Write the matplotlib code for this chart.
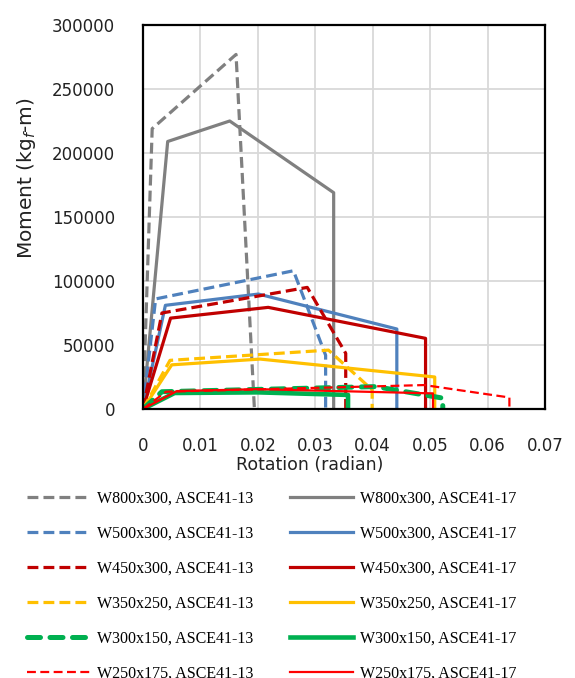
import numpy as np
import matplotlib
matplotlib.use("Agg")
import matplotlib.pyplot as plt

# moment-rotation backbone curves, ASCE41-13 vs ASCE41-17
sections = ["W800x300", "W500x300", "W450x300", "W350x250", "W300x150", "W250x175"]
colours = ["#808080", "#4F81BD", "#C00000", "#FFC000", "#00B050", "#FF0000"]

rot_13 = [
    [0, 0.0016, 0.0162, 0.0194],
    [0, 0.0022, 0.0262, 0.0318, 0.0318],
    [0, 0.0033, 0.0286, 0.0353, 0.0353],
    [0, 0.0047, 0.0323, 0.0399, 0.0399],
    [0, 0.0033, 0.0405, 0.0522, 0.0522],
    [0, 0.0040, 0.0490, 0.0638, 0.0638],
]
mom_13 = [
    [0, 219000, 277000, 0],
    [0, 86000, 108000, 42000, 0],
    [0, 75000, 95000, 43500, 0],
    [0, 38000, 46000, 15000, 0],
    [0, 13500, 17500, 8500, 0],
    [0, 13500, 18700, 9000, 0],
]
rot_17 = [
    [0, 0.0043, 0.0151, 0.0332, 0.0332],
    [0, 0.0039, 0.0201, 0.0442, 0.0442],
    [0, 0.0048, 0.0218, 0.0492, 0.0492],
    [0, 0.0050, 0.0204, 0.0508, 0.0508],
    [0, 0.0055, 0.0200, 0.0357, 0.0357],
    [0, 0.0059, 0.0200, 0.0505, 0.0505],
]
mom_17 = [
    [0, 209000, 225000, 169000, 0],
    [0, 81000, 89800, 62500, 0],
    [0, 71000, 79400, 55200, 0],
    [0, 34500, 39000, 25000, 0],
    [0, 12500, 13000, 11000, 0],
    [0, 14000, 15500, 12200, 0],
]

xticks = [0, 0.01, 0.02, 0.03, 0.04, 0.05, 0.06, 0.07]
xticklabels = ["0", "0.01", "0.02", "0.03", "0.04", "0.05", "0.06", "0.07"]
yticks = [0, 50000, 100000, 150000, 200000, 250000, 300000]
yticklabels = ["0", "50000", "100000", "150000", "200000", "250000", "300000"]

W, H = 575, 678
fig = plt.figure(figsize=(W / 100, H / 100), dpi=100)
ax = fig.add_axes([143 / W, 1 - 409 / H, (545 - 143) / W, (409 - 25) / H])

h13, h17 = [], []
for i, name in enumerate(sections):
    c = colours[i]
    # line weights / dash patterns per section
    if name == "W300x150":
        lw13, lw17, dash = 3.6, 3.3, (2.6, 1.9)
    elif name == "W250x175":
        lw13, lw17, dash = 1.6, 1.6, (4, 2)
    else:
        lw13, lw17, dash = 2.3, 2.3, (3.4, 1.6)
    l13, = ax.plot(rot_13[i], mom_13[i], color=c, lw=lw13, dashes=dash,
                   dash_capstyle="round" if name == "W300x150" else "butt",
                   label=name + ", ASCE41-13")
    l17, = ax.plot(rot_17[i], mom_17[i], color=c, lw=lw17,
                   label=name + ", ASCE41-17")
    h13.append(l13)
    h17.append(l17)

ax.set_xlim(0, 0.07)
ax.set_ylim(0, 300000)
ax.set_xticks(xticks)
ax.set_xticklabels(xticklabels)
ax.set_yticks(yticks)
ax.set_yticklabels(yticklabels)
ax.tick_params(length=0, labelsize=12, colors="#222222")
ax.tick_params(axis="y", pad=20)
ax.tick_params(axis="x", pad=20)
ax.grid(True, color="#D9D9D9", lw=1.3)
ax.set_axisbelow(True)
for sp in ax.spines.values():
    sp.set_color("black")
    sp.set_linewidth(1.6)

fig.text(310 / W, 1 - 465 / H, "Rotation (radian)", ha="center", va="center",
         fontsize=12.5, color="#222222")
fig.text(27 / W, 1 - 178 / H, "Moment (kg$_f$-m)", ha="center", va="center",
         rotation=90, fontsize=14.5, color="#222222")

fig.legend(h13 + h17, [h.get_label() for h in h13 + h17], ncol=2,
           loc="upper left", bbox_to_anchor=(27 / W, 1 - 491 / H),
           frameon=False, borderpad=0, borderaxespad=0,
           prop={"family": "Liberation Serif", "size": 11.5},
           handlelength=3.95, handletextpad=0.45, columnspacing=2.25,
           labelspacing=1.18)

fig.savefig("out.png", dpi=100)
